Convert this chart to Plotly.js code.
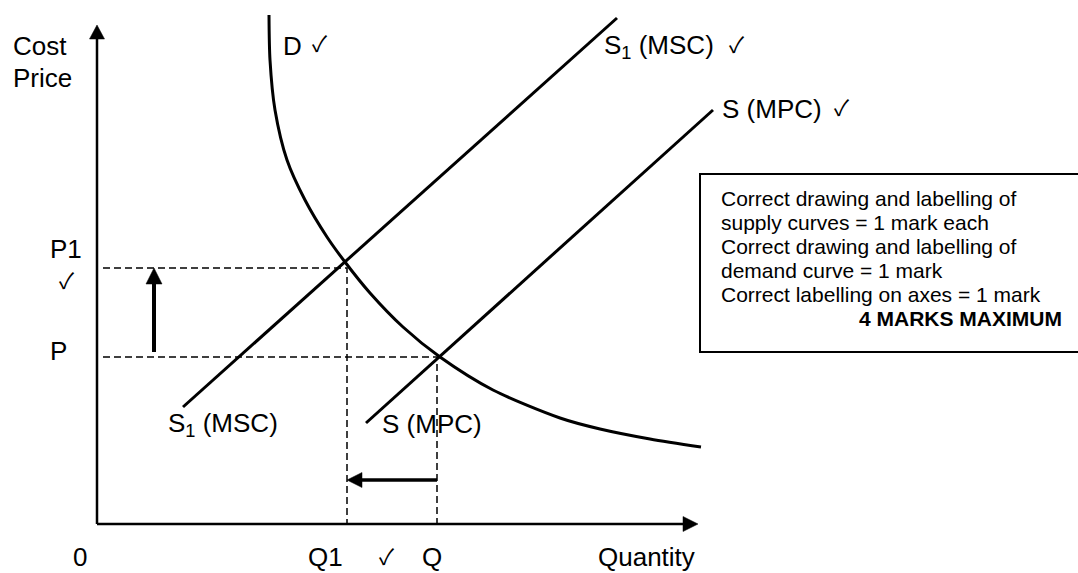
<!DOCTYPE html>
<html>
<head>
<meta charset="utf-8">
<script src="https://cdn.plot.ly/plotly-3.0.1.min.js"></script>
<style>html,body{margin:0;padding:0;background:#fff;}#chart{width:1078px;height:573px;}</style>
</head>
<body>
<div id="chart"></div>
<script>
// ---- data (quantity on x, price/cost on y; arbitrary units) ----
const axisQMax = 601;
const axisPMax = 499;
const demandQ = [172, 173, 178, 190, 208, 230, 248, 273, 306, 343, 396, 463, 503, 553, 604];
const demandP = [509, 464, 414, 364, 324, 287, 262, 231, 197, 167, 134, 106, 95, 85, 77];
const mscQ = [86, 520];
const mscP = [117, 506];
const mpcQ = [269, 616];
const mpcP = [101, 414];
const priceP = 167;
const priceP1 = 256;
const quantQ = 340;
const quantQ1 = 250;
const guideStart = 6;
const priceArrowQ = 57;
const priceArrowFrom = 172;
const quantArrowP = 44;
const boxLines = [
  "Correct drawing and labelling of",
  "supply curves = 1 mark each",
  "Correct drawing and labelling of",
  "demand curve = 1 mark",
  "Correct labelling on axes = 1 mark"
];
const boxTotal = "4 MARKS MAXIMUM";

const FONT = "Liberation Sans, Arial, sans-serif";
const CHECK = "✓";

const solid = {color: "#000", width: 3};
const dashed = {color: "#000", width: 1.5, dash: "7px,4px"};

const traces = [
  {x: demandQ, y: demandP, mode: "lines", line: Object.assign({shape: "spline", smoothing: 0.8}, solid)},
  {x: mscQ, y: mscP, mode: "lines", line: solid},
  {x: mpcQ, y: mpcP, mode: "lines", line: solid},
  {x: [guideStart, quantQ1, quantQ1], y: [priceP1, priceP1, 0], mode: "lines", line: dashed},
  {x: [guideStart, quantQ, quantQ], y: [priceP, priceP, 0], mode: "lines", line: dashed}
];

// arrow = shaft line + filled triangular head (1 axis unit = 1 screen pixel here)
function arrowShapes(x0, y0, x1, y1, w, len, half) {
  const dx = x1 - x0, dy = y1 - y0, d = Math.hypot(dx, dy);
  const ux = dx / d, uy = dy / d;
  const bx = x1 - ux * len, by = y1 - uy * len;
  const px = -uy * half, py = ux * half;
  return [
    {type: "line", xref: "x", yref: "y", x0: x0, y0: y0, x1: bx + ux, y1: by + uy,
      line: {color: "#000", width: w}},
    {type: "path", xref: "x", yref: "y",
      path: "M" + x1 + "," + y1 + " L" + (bx + px) + "," + (by + py) + " L" + (bx - px) + "," + (by - py) + " Z",
      fillcolor: "#000", line: {color: "#000", width: 0.5}}
  ];
}

function label(text, x, y, size, opts) {
  return Object.assign({x: x, y: y, xref: "x", yref: "y", text: text, showarrow: false,
    xanchor: "left", yanchor: "middle", borderpad: 0, borderwidth: 0,
    font: {family: FONT, size: size, color: "#000"}}, opts || {});
}
function tick(x, y) {
  return label(CHECK, x, y, 22, {xanchor: "center", font: {family: "Noto Sans CJK SC, DejaVu Sans", size: 22, color: "#000"}});
}

const annotations = [
  label("Cost", -84, 478, 26),
  label("Price", -84, 446, 26),
  label("D", 186, 478, 26),
  tick(223, 482),
  label("S<sub>1</sub> (MSC)", 507, 478, 26),
  tick(640, 481),
  label("S (MPC)", 625, 415, 26),
  tick(745, 418),
  label("P1", -47, 275, 26),
  tick(-30, 245),
  label("P", -47, 173, 26),
  label("S<sub>1</sub> (MSC)", 71, 100, 26),
  label("S (MPC)", 285, 100, 26),
  label("0", -24, -33, 26),
  label("Q1", 211, -33, 26),
  tick(290, -31),
  label("Q", 325, -33, 26),
  label("Quantity", 501, -33, 26)
];
boxLines.forEach(function (t, i) {
  annotations.push(label(t, 624, 326 - 24 * i, 21));
});
annotations.push(label("<b>" + boxTotal + "</b>", 965, 326 - 24 * 5, 21, {xanchor: "right"}));

const shapes = [].concat(
  [{type: "rect", xref: "x", yref: "y", x0: 603, x1: 995, y0: 172, y1: 350,
    line: {color: "#000", width: 2}, fillcolor: "rgba(0,0,0,0)"}],
  arrowShapes(0, 0, 0, axisPMax, 2.5, 14, 7.5),
  arrowShapes(0, 0, axisQMax, 0, 2.5, 15, 7.5),
  arrowShapes(priceArrowQ, priceArrowFrom, priceArrowQ, priceP1, 4, 16, 8),
  arrowShapes(quantQ, quantArrowP, quantQ1, quantArrowP, 3.5, 15, 7.5)
);

const layout = {
  width: 1078, height: 573,
  margin: {l: 0, r: 0, t: 0, b: 0},
  paper_bgcolor: "#fff", plot_bgcolor: "#fff",
  showlegend: false,
  xaxis: {range: [-97, 981], visible: false, fixedrange: true},
  yaxis: {range: [-49, 524], visible: false, fixedrange: true},
  shapes: shapes,
  annotations: annotations,
  font: {family: FONT}
};

Plotly.newPlot("chart", traces, layout, {staticPlot: true, displayModeBar: false});
</script>
</body>
</html>
